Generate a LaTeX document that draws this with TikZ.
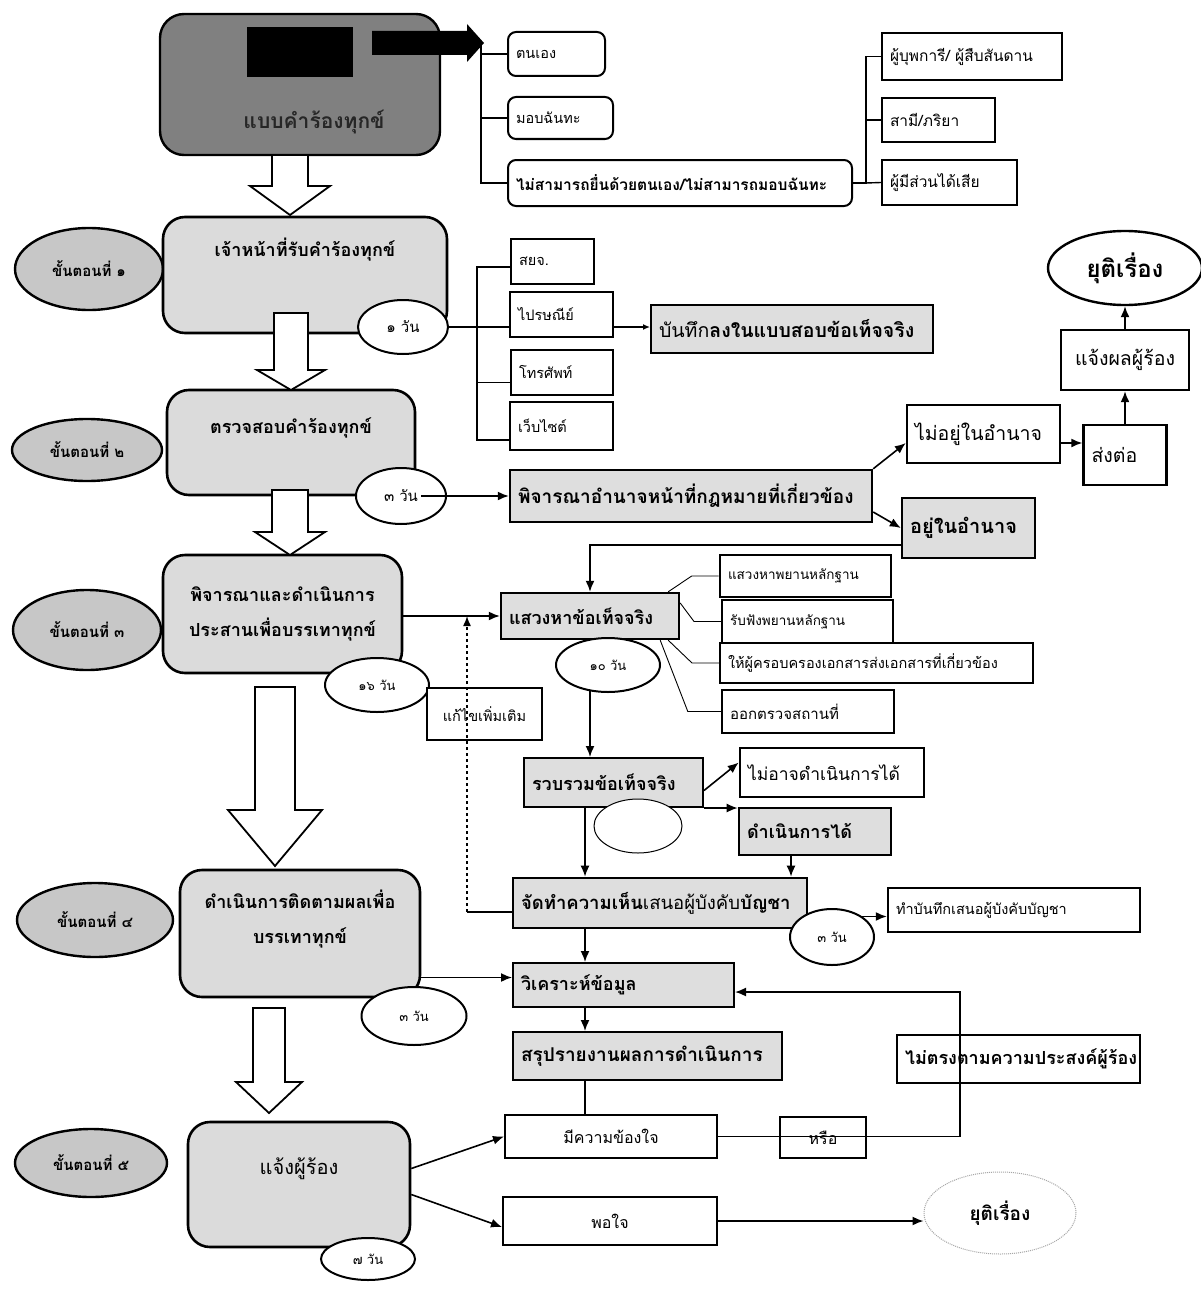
\documentclass[tikz,border=0pt]{standalone}
\usepackage{fontspec}
\setmainfont[Script=Thai]{Loma}
\usetikzlibrary{positioning,calc,shapes.geometric,arrows.meta}

% hollow block arrow pointing down: x, y top, y neck, y tip, half shaft, half head
\newcommand{\hollowdown}[6]{%
  \draw[hollow] (#1-#5,#2) -- (#1+#5,#2) -- (#1+#5,#3) -- (#1+#6,#3)
    -- (#1,#4) -- (#1-#6,#3) -- (#1-#5,#3) -- cycle;}

\begin{document}
\begin{tikzpicture}[x=1pt, y=-1pt,
    stepbox/.style={draw, line width=2.6pt, rounded corners=22pt, fill=black!14, inner sep=0pt},
    steptext/.style={font=\fontsize{18}{35}\selectfont\bfseries, align=center},
    stepell/.style={ellipse, draw, line width=2.4pt, fill=black!22, inner sep=0pt,
        font=\fontsize{15}{17}\selectfont\bfseries},
    dayell/.style={ellipse, draw, line width=2pt, fill=white, inner sep=0pt,
        font=\fontsize{15}{17}\selectfont},
    lbox/.style={draw, line width=2pt, fill=white, inner xsep=8pt, inner ysep=0pt,
        align=left, font=\fontsize{14.5}{17}\selectfont},
    cbox/.style={draw, line width=2pt, fill=white, inner sep=0pt, font=\fontsize{16}{19}\selectfont},
    shade/.style={fill=black!13, font=\fontsize{18}{21}\selectfont\bfseries},
    conn/.style={line width=1.6pt, -{Latex[length=11pt,width=9pt]}},
    twig/.style={line width=1.4pt},
    fan/.style={line width=0.9pt},
    hollow/.style={draw, line width=1.8pt, fill=white, line join=miter}]
    \fill[white] (0,0) rectangle (1201,1303);
    \useasboundingbox (0,0) rectangle (1201,1303);

    % start
    \node[draw, line width=2.4pt, rounded corners=24pt, fill=black!50, inner sep=0pt,
        minimum width=280pt, minimum height=141pt,
        label={[font=\fontsize{21}{24}\selectfont\bfseries, text=black!85, yshift=-38pt, xshift=14pt]center:แบบคำร้องทุกข์}]
        (top) at (300,84.5) {};
    \node[fill=black, inner sep=0pt, minimum width=106pt, minimum height=50pt] (mask) at (300,52) {};
    \fill (372,31) -- (467,31) -- (467,24) -- (484,43) -- (467,62) -- (467,55) -- (372,55) -- cycle;
    \coordinate (tip1) at (481,43);
    \node[lbox, rounded corners=8pt, text width=81pt, minimum height=44pt]
        (own) at (556.5,54) {ตนเอง};
    \node[lbox, rounded corners=8pt, text width=89pt, minimum height=42pt]
        (proxy) at (560.5,118) {มอบฉันทะ};
    \node[lbox, rounded corners=8pt, text width=328pt, minimum height=46pt, font=\fontsize{15.5}{18}\selectfont\bfseries]
        (unable) at (680,183) {ไม่สามารถยื่นด้วยตนเอง/ไม่สามารถมอบฉันทะ};
    \draw[twig] (tip1) |- (own.west);
    \draw[twig] (tip1) |- (proxy.west);
    \draw[twig] (tip1) |- (unable.west);
    \coordinate (t2) at (866,0);
    \node[lbox, line width=2.4pt, text width=164pt, minimum height=47pt, font=\fontsize{15.5}{18}\selectfont]
        (anc) at (972,56.5) {ผู้บุพการี/ ผู้สืบสันดาน};
    \node[lbox, line width=2.4pt, text width=97pt, minimum height=44pt, font=\fontsize{15.5}{18}\selectfont]
        (spouse) at (938.5,120) {สามี/ภริยา};
    \node[lbox, line width=2.4pt, text width=119pt, minimum height=45pt, font=\fontsize{15.5}{18}\selectfont]
        (party) at (949.5,182.5) {ผู้มีส่วนได้เสีย};
    \draw[twig] (unable.east) -- (unable.east -| t2) |- (anc.west);
    \draw[twig] (unable.east -| t2) |- (spouse.west);
    \draw[twig] (unable.east -| t2) -- (party.west);

    % step 1
    \node[stepell, minimum width=148pt, minimum height=82pt] (s1e) at (89,269) {ขั้นตอนที่ ๑};
    \node[stepbox, minimum width=284pt, minimum height=116pt,
        label={[steptext, yshift=25pt]center:เจ้าหน้าที่รับคำร้องทุกข์}] (s1) at (305,275) {};
    % step 2
    \node[stepell, minimum width=150pt, minimum height=62pt] (s2e) at (87,450) {ขั้นตอนที่ ๒};
    \node[stepbox, minimum width=248pt, minimum height=105pt,
        label={[steptext, yshift=15pt]center:ตรวจสอบคำร้องทุกข์}] (s2) at (291,442.5) {};
    % step 3
    \node[stepell, minimum width=148pt, minimum height=80pt] (s3e) at (87,630) {ขั้นตอนที่ ๓};
    \node[stepbox, minimum width=239pt, minimum height=118pt,
        label={[steptext]center:พิจารณาและดำเนินการ\\ประสานเพื่อบรรเทาทุกข์}] (s3) at (282.5,614) {};
    % step 4
    \node[stepell, minimum width=156pt, minimum height=74pt] (s4e) at (95,920) {ขั้นตอนที่ ๔};
    \node[stepbox, minimum width=240pt, minimum height=127pt,
        label={[steptext, yshift=14pt]center:ดำเนินการติดตามผลเพื่อ\\บรรเทาทุกข์}] (s4) at (300,933.5) {};
    % step 5
    \node[stepell, minimum width=152pt, minimum height=68pt] (s5e) at (91,1163) {ขั้นตอนที่ ๕};
    \node[stepbox, minimum width=222pt, minimum height=125pt,
        label={[steptext, font=\fontsize{20}{23}\selectfont, yshift=16pt]center:แจ้งผู้ร้อง}] (s5) at (299,1184.5) {};

    \hollowdown{290}{155}{186}{215}{18}{40}
    \hollowdown{291}{313}{370}{390}{17}{34}
    \hollowdown{290}{490}{532}{555}{18}{35}
    \hollowdown{275}{687}{810}{866}{20}{47}
    \hollowdown{269}{1008}{1082}{1113}{16}{33}

    % channels
    \node[dayell, minimum width=90pt, minimum height=54pt] (d1) at (403,327) {๑ วัน};
    \coordinate (t3) at (477,0);
    \node[lbox, text width=67pt, minimum height=45pt] (syj) at (552.5,261) {สยจ.};
    \node[lbox, line width=2.4pt, text width=87pt, minimum height=45pt] (post) at (561.5,314.5) {ไปรษณีย์};
    \node[lbox, line width=2.4pt, text width=86pt, minimum height=45pt] (tel) at (562,372.5) {โทรศัพท์};
    \node[lbox, text width=87pt, minimum height=48pt] (web) at (561.5,426) {เว็บไซต์};
    \draw[twig] (d1.east) -- (d1.east -| post.west);
    \draw[twig] ([yshift=-6pt]syj.west) -- ([yshift=-6pt]syj.west -| t3) |- ([yshift=-14pt]web.west);
    \draw[twig] ([yshift=-10pt]tel.west) -- ([yshift=-10pt]tel.west -| t3);
    \node[lbox, shade, text width=266pt, minimum height=48pt, font=\fontsize{19.5}{22}\selectfont]
        (bt) at (792,329) {บันทึก\textbf{ลงในแบบสอบข้อเท็จจริง}};
    \draw[line width=1.3pt, -{Latex[length=7pt,width=6pt]}] (post.east |- d1) -- (bt.west |- d1);

    % jurisdiction
    \node[dayell, minimum width=90pt, minimum height=56pt] (d2) at (401,496) {๓ วัน};
    \node[lbox, shade, line width=2.4pt, text width=346pt, minimum height=52pt, font=\fontsize{19}{22}\selectfont\bfseries]
        (pj) at (691,496) {พิจารณาอำนาจหน้าที่กฎหมายที่เกี่ยวข้อง};
    \draw[conn] ([xshift=20pt]d2.center) -- (pj.west);
    \node[lbox, line width=2.4pt, text width=137pt, minimum height=58pt, font=\fontsize{19.5}{22}\selectfont]
        (nq) at (983.5,434) {ไม่อยู่ในอำนาจ};
    \node[lbox, line width=2.4pt, text width=67pt, minimum height=60pt, font=\fontsize{19.5}{22}\selectfont]
        (st) at (1125,455) {ส่งต่อ};
    \node[cbox, line width=2.4pt, minimum width=128pt, minimum height=60pt, font=\fontsize{19.5}{22}\selectfont]
        (jp) at (1125,360) {แจ้งผลผู้ร้อง};
    \node[ellipse, draw, line width=2.4pt, fill=white, inner sep=0pt, minimum width=154pt, minimum height=74pt,
        font=\fontsize{24}{27}\selectfont\bfseries] (end1) at (1125,268) {ยุติเรื่อง};
    \node[lbox, shade, line width=2.4pt, text width=117pt, minimum height=60pt, font=\fontsize{20}{23}\selectfont\bfseries]
        (yu) at (968.5,528) {อยู่ในอำนาจ};
    \draw[conn] (pj.north east) -- ([yshift=-9pt]nq.west);
    \draw[conn] ([yshift=-16pt]pj.east) -- (yu.west);
    \draw[conn] ([yshift=-9pt]nq.east) -- ([yshift=-9pt]nq.east -| st.west);
    \draw[conn] (st.north) -- (jp.south);
    \draw[conn] (jp.north) -- (end1.south);

    % fact finding
    \node[lbox, shade, line width=2.4pt, text width=162pt, minimum height=46pt] (sh) at (590,616) {แสวงหาข้อเท็จจริง};
    \draw[conn] ([yshift=-17pt]yu.west) -| (sh.north);
    \draw[conn] (s3.east |- sh) -- (sh.west);
    \node[dayell, minimum width=104pt, minimum height=54pt, font=\fontsize{13}{15}\selectfont] (d16) at (377,685) {๑๖ วัน};
    \node[cbox, minimum width=115pt, minimum height=52pt, font=\fontsize{14.5}{17}\selectfont] (kf) at (484.5,714) {แก้ไขเพิ่มเติม};
    \node[lbox, shade, text width=163pt, minimum height=49pt] (rb) at (613.5,782.5) {รวบรวมข้อเท็จจริง};
    \draw[conn] (sh.south) -- (sh.south |- rb.north);
    \node[dayell, minimum width=104pt, minimum height=54pt, font=\fontsize{13}{15}\selectfont] (d10) at (608,665) {๑๐ วัน};
    \node[lbox, line width=2.6pt, text width=155pt, minimum height=42pt, font=\fontsize{13.5}{16}\selectfont] (ev1) at (805.5,576) {แสวงหาพยานหลักฐาน};
    \node[lbox, text width=155pt, minimum height=43pt, font=\fontsize{13.5}{16}\selectfont] (ev2) at (807.5,621.5) {รับฟังพยานหลักฐาน};
    \node[lbox, text width=297pt, minimum height=40pt, font=\fontsize{14.5}{17}\selectfont] (ev3) at (876.5,663) {ให้ผู้ครอบครองเอกสารส่งเอกสารที่เกี่ยวข้อง};
    \node[lbox, line width=2.4pt, text width=156pt, minimum height=43pt, font=\fontsize{15}{17}\selectfont] (ev4) at (808,711.5) {ออกตรวจสถานที่};
    \draw[fan] ([xshift=-12pt]sh.north east) -- ([xshift=-27pt]ev1.west) -- (ev1.west);
    \draw[fan] ([yshift=13pt]sh.east) -- ([xshift=-27pt]ev2.west) -- (ev2.west);
    \draw[fan] ([xshift=-12pt]sh.south east) -- ([xshift=-27pt]ev3.west) -- (ev3.west);
    \draw[fan] ([xshift=-20pt]sh.south east) -- ([xshift=-33pt]ev4.west) -- (ev4.west);
    \node[ellipse, draw, line width=1pt, fill=white, inner sep=0pt, minimum width=88pt, minimum height=54pt] (e0) at (638,826) {};
    \node[lbox, line width=2.6pt, text width=168pt, minimum height=49pt, font=\fontsize{17.5}{20}\selectfont] (na) at (832,772.5) {ไม่อาจดำเนินการได้};
    \node[lbox, shade, line width=2.6pt, text width=136pt, minimum height=47pt] (dk) at (815,831.5) {ดำเนินการได้};
    \draw[conn] ([yshift=-8pt]rb.east) -- ([yshift=10pt]na.west);
    \draw[conn] (rb.south east) -- (rb.south east -| dk.west);

    % opinion and analysis
    \coordinate (colA) at (585,0);
    \node[lbox, shade, line width=2.6pt, text width=278pt, minimum height=50pt, font=\fontsize{18.5}{21}\selectfont]
        (jt) at (660,903) {\textbf{จัดทำความเห็น}เสนอผู้บังคับ\textbf{บัญชา}};
    \draw[conn] (colA |- rb.south) -- (colA |- jt.north);
    \draw[conn] ([xshift=-24pt]dk.south) -- ([xshift=-24pt]dk.south |- jt.north);
    \node[dayell, minimum width=84pt, minimum height=56pt, font=\fontsize{13}{15}\selectfont] (d3b) at (832,937) {๓ วัน};
    \node[lbox, line width=2.4pt, text width=236pt, minimum height=44pt, font=\fontsize{14.5}{17}\selectfont] (tb) at (1014,910) {ทำบันทึกเสนอผู้บังคับบัญชา};
    \draw[conn] (d3b.north east) -- (d3b.north east -| tb.west);
    \coordinate (fb) at (467,912);
    \draw[line width=2.4pt] (jt.west |- fb) -- (fb);
    \draw[dashed, line width=1.4pt, -{Latex[length=10pt,width=8pt]}] (fb) -- (fb |- sh.west);

    \node[dayell, minimum width=105pt, minimum height=58pt, font=\fontsize{13}{15}\selectfont] (d3c) at (414,1016) {๓ วัน};
    \node[lbox, shade, text width=205pt, minimum height=44pt] (an) at (623.5,985) {วิเคราะห์ข้อมูล};
    \draw[conn] ([yshift=-44pt]s4.east) -- ([yshift=-44pt]s4.east -| an.west);
    \draw[conn] (colA |- jt.south) -- (colA |- an.north);
    \node[lbox, shade, text width=253pt, minimum height=48pt, font=\fontsize{19}{22}\selectfont\bfseries] (sr) at (647.5,1056) {สรุปรายงานผลการดำเนินการ};
    \draw[conn] (colA |- an.south) -- (colA |- sr.north);
    \node[lbox, line width=2.4pt, text width=227pt, minimum height=48pt, font=\fontsize{18}{21}\selectfont\bfseries]
        (nt) at (1018.5,1059) {ไม่ตรงตามความประสงค์ผู้ร้อง};

    % reply
    \node[dayell, minimum width=94pt, minimum height=42pt, font=\fontsize{13}{15}\selectfont] (d7) at (368,1259) {๗ วัน};
    \node[cbox, minimum width=212pt, minimum height=43pt] (mk) at (611,1136.5) {มีความข้องใจ};
    \node[cbox, minimum width=86pt, minimum height=41pt] (hr) at (823,1137.5) {หรือ};
    \node[cbox, minimum width=214pt, minimum height=48pt] (po) at (610,1221) {พอใจ};
    \node[ellipse, draw=black!35, densely dotted, line width=1pt, inner sep=0pt, minimum width=152pt,
        minimum height=82pt, font=\fontsize{19}{22}\selectfont\bfseries] (end2) at (1000,1213) {ยุติเรื่อง};
    \draw[twig] (colA |- sr.south) -- (colA |- mk.north);
    \coordinate (lp) at (960,992);
    \draw[conn] (mk.east) -| (lp) -- (lp -| an.east);
    \draw[conn] ([yshift=16pt]s5.east) -- (mk.west);
    \draw[conn] ([yshift=-10pt]s5.east) -- ([yshift=-6pt]po.west);
    \draw[conn] (po.east) -- (po.east -| end2.west);
\end{tikzpicture}
\end{document}
